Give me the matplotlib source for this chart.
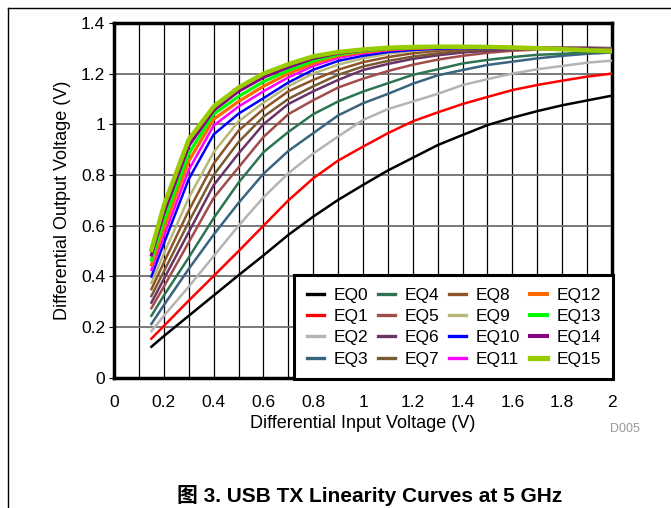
import numpy as np
import matplotlib
matplotlib.use("Agg")
import matplotlib.pyplot as plt
from matplotlib.lines import Line2D

plt.rcParams['font.family'] = ['Liberation Sans', 'Noto Sans CJK SC']

# --------------------------------------------------
# DATA
# --------------------------------------------------
vin = [0.15, 0.2, 0.3, 0.4, 0.5, 0.6, 0.7, 0.8, 0.9, 1.0,
       1.1, 1.2, 1.3, 1.4, 1.5, 1.6, 1.7, 1.8, 1.9, 2.0]

eq0 = [0.123, 0.165, 0.245, 0.325, 0.405, 0.483, 0.564, 0.636, 0.702, 0.761,
       0.818, 0.868, 0.918, 0.958, 0.997, 1.026, 1.052, 1.075, 1.094, 1.113]
eq1 = [0.155, 0.205, 0.305, 0.402, 0.50, 0.60, 0.70, 0.787, 0.857, 0.912,
       0.965, 1.012, 1.047, 1.08, 1.108, 1.135, 1.155, 1.172, 1.188, 1.20]
eq2 = [0.185, 0.245, 0.36, 0.48, 0.60, 0.712, 0.807, 0.885, 0.952, 1.017,
       1.06, 1.09, 1.12, 1.155, 1.178, 1.20, 1.217, 1.23, 1.243, 1.251]
eq3 = [0.213, 0.287, 0.43, 0.565, 0.69, 0.805, 0.895, 0.965, 1.035, 1.083,
       1.12, 1.16, 1.193, 1.214, 1.234, 1.247, 1.26, 1.27, 1.278, 1.283]
eq4 = [0.245, 0.325, 0.475, 0.63, 0.77, 0.89, 0.97, 1.04, 1.09, 1.129,
       1.162, 1.195, 1.217, 1.24, 1.254, 1.265, 1.274, 1.278, 1.283, 1.285]
eq5 = [0.275, 0.36, 0.535, 0.71, 0.83, 0.95, 1.04, 1.095, 1.145, 1.18,
       1.21, 1.235, 1.255, 1.27, 1.282, 1.29, 1.295, 1.298, 1.30, 1.30]
eq6 = [0.297, 0.39, 0.575, 0.76, 0.885, 1.0, 1.08, 1.13, 1.175, 1.214,
       1.238, 1.258, 1.272, 1.283, 1.29, 1.296, 1.30, 1.302, 1.302, 1.30]
eq7 = [0.323, 0.42, 0.615, 0.80, 0.93, 1.03, 1.10, 1.15, 1.195, 1.228,
       1.25, 1.267, 1.28, 1.29, 1.296, 1.30, 1.302, 1.302, 1.301, 1.30]
eq8 = [0.35, 0.455, 0.66, 0.845, 0.975, 1.06, 1.13, 1.175, 1.215, 1.245,
       1.265, 1.28, 1.29, 1.297, 1.30, 1.302, 1.302, 1.30, 1.298, 1.296]
eq9 = [0.375, 0.49, 0.71, 0.89, 1.012, 1.085, 1.15, 1.20, 1.235, 1.26,
       1.278, 1.29, 1.297, 1.30, 1.302, 1.302, 1.30, 1.298, 1.295, 1.293]
eq10 = [0.40, 0.53, 0.784, 0.96, 1.042, 1.103, 1.165, 1.215, 1.25, 1.27,
        1.285, 1.293, 1.298, 1.30, 1.30, 1.30, 1.299, 1.298, 1.297, 1.296]
eq11 = [0.426, 0.56, 0.82, 0.995, 1.07, 1.13, 1.185, 1.23, 1.262, 1.28,
        1.292, 1.298, 1.302, 1.303, 1.303, 1.302, 1.30, 1.298, 1.296, 1.294]
eq12 = [0.446, 0.59, 0.855, 1.02, 1.09, 1.15, 1.20, 1.24, 1.27, 1.285,
        1.295, 1.30, 1.303, 1.304, 1.304, 1.302, 1.30, 1.298, 1.295, 1.293]
eq13 = [0.465, 0.62, 0.885, 1.04, 1.11, 1.168, 1.213, 1.25, 1.275, 1.29,
        1.298, 1.302, 1.305, 1.305, 1.304, 1.302, 1.30, 1.297, 1.294, 1.291]
eq14 = [0.485, 0.65, 0.915, 1.055, 1.13, 1.185, 1.225, 1.26, 1.28, 1.292,
        1.30, 1.304, 1.306, 1.306, 1.305, 1.303, 1.30, 1.297, 1.294, 1.29]
eq15 = [0.505, 0.68, 0.94, 1.07, 1.145, 1.20, 1.237, 1.268, 1.285, 1.295,
        1.302, 1.305, 1.306, 1.306, 1.305, 1.303, 1.30, 1.296, 1.292, 1.288]

nomes = ["EQ0", "EQ1", "EQ2", "EQ3", "EQ4", "EQ5", "EQ6", "EQ7",
         "EQ8", "EQ9", "EQ10", "EQ11", "EQ12", "EQ13", "EQ14", "EQ15"]
series = [eq0, eq1, eq2, eq3, eq4, eq5, eq6, eq7,
          eq8, eq9, eq10, eq11, eq12, eq13, eq14, eq15]

cores = ["#000000", "#FF0000", "#B4B4B4", "#3A6480", "#2D7552", "#A24B4B",
         "#6B3466", "#7A5A33", "#8E5427", "#B8B878", "#0000FF", "#FF00FF",
         "#FF6A00", "#00FF00", "#880088", "#99CC00"]
larguras = [1.8] * 12 + [2.3, 2.3, 2.3, 3.2]

# --------------------------------------------------
# FIGURA
# --------------------------------------------------
fig = plt.figure(figsize=(6.71, 5.08), dpi=100)
ax = fig.add_axes([0.170, 0.256, 0.742, 0.699])

for i in range(16):
    ax.plot(vin, series[i], color=cores[i], linewidth=larguras[i], zorder=3)

ax.set_xlim(0, 2)
ax.set_ylim(0, 1.4)

ax.set_xticks(np.arange(0, 2.01, 0.2))
ax.set_xticks(np.arange(0, 2.01, 0.1), minor=True)
ax.set_xticklabels(["0", "0.2", "0.4", "0.6", "0.8", "1", "1.2", "1.4", "1.6", "1.8", "2"])
ax.set_yticks(np.arange(0, 1.41, 0.2))
ax.set_yticklabels(["0", "0.2", "0.4", "0.6", "0.8", "1", "1.2", "1.4"])

ax.grid(True, which="both", axis="x", color="#000000", linewidth=0.9)
ax.grid(True, which="major", axis="y", color="#6E6E6E", linewidth=1.3)
ax.set_axisbelow(True)

ax.tick_params(axis="x", which="both", length=0, pad=12, labelsize=12.5)
ax.tick_params(axis="y", length=3.5, width=0.8, pad=3, labelsize=12.5)

for lado in ax.spines.values():
    lado.set_linewidth(2.5)

ax.set_xlabel("Differential Input Voltage (V)", fontsize=13, labelpad=4)
ax.set_ylabel("Differential Output Voltage (V)", fontsize=13, labelpad=7)

# legenda
handles = [Line2D([0], [0], color=cores[i], linewidth=larguras[i] + 0.6) for i in range(16)]
leg = ax.legend(handles, nomes, ncol=4, loc="lower right",
                bbox_to_anchor=(1.003, -0.003), borderaxespad=0,
                fontsize=12.5, handlelength=1.0, handletextpad=0.55,
                columnspacing=0.55, labelspacing=0.36, borderpad=0.7,
                fancybox=False, framealpha=1, edgecolor="black")
leg.get_frame().set_linewidth(2.2)
leg.set_zorder(5)

# textos e bordas da pagina
fig.text(640 / 671, 1 - 429 / 508, "D005", color="#999999", fontsize=9,
         ha="right", va="center")
fig.text(370 / 671, 1 - 496 / 508, "图 3. USB TX Linearity Curves at 5 GHz",
         fontsize=15, fontweight="bold", ha="center", va="center")

fig.add_artist(Line2D([7.5 / 671, 7.5 / 671], [0, 1 - 7.5 / 508], color="black", linewidth=1.0))
fig.add_artist(Line2D([7.5 / 671, 1], [1 - 7.5 / 508, 1 - 7.5 / 508], color="black", linewidth=1.0))

fig.savefig("out.png", dpi=100)
